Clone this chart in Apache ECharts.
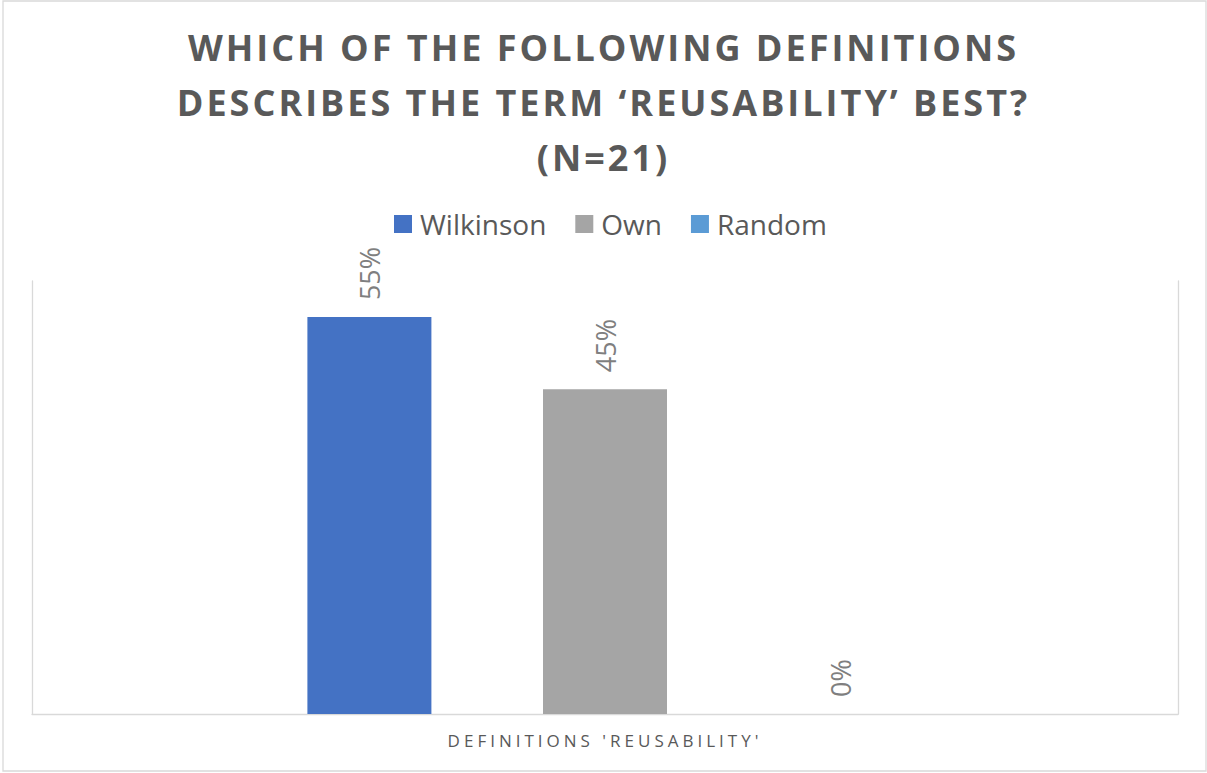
<!DOCTYPE html>
<html>
<head>
<meta charset="utf-8">
<script src="https://cdn.jsdelivr.net/npm/echarts@6/dist/echarts.min.js"></script>
<style>
  html, body { margin: 0; padding: 0; background: #ffffff; }
  #chart { width: 1207px; height: 773px; }
</style>
</head>
<body>
<div id="chart"></div>
<script>
// Survey result: which definition of 'reusability' respondents chose
const titleLines = ['WHICH OF THE FOLLOWING DEFINITIONS', 'DESCRIBES THE TERM \u2018REUSABILITY\u2019 BEST?', '(N=21)'];
const categories = ["DEFINITIONS 'REUSABILITY'"];
const seriesNames = ['Wilkinson', 'Own', 'Random'];
const wilkinson = [0.55];
const own = [0.45];
const random = [0];

const seriesValues = [wilkinson, own, random];
const seriesColors = ['#4472c4', '#a5a5a5', '#5b9bd5'];
const FONT = '"Open Sans", "Noto Sans", sans-serif';

const chart = echarts.init(document.getElementById('chart'), null, { renderer: 'svg' });

const valueAxis = (position) => ({
  type: 'value',
  position: position,
  min: 0,
  max: 0.6,
  axisLine: { show: true, lineStyle: { color: '#d9d9d9', width: 1.3 } },
  axisTick: { show: false },
  axisLabel: { show: false },
  splitLine: { show: false }
});

chart.setOption({
  animation: false,
  backgroundColor: '#ffffff',
  title: {
    text: titleLines.join('\n'),
    left: 'center',
    top: 15,
    textStyle: {
      fontFamily: FONT,
      fontSize: 36,
      fontWeight: 'bold',
      color: '#595959',
      lineHeight: 55
    }
  },
  legend: {
    data: seriesNames,
    left: 394,
    top: 210,
    padding: 0,
    icon: 'rect',
    itemWidth: 18,
    itemHeight: 18,
    itemGap: 29,
    textStyle: { fontFamily: FONT, fontSize: 28, color: '#595959', padding: [0, 0, 0, 3] }
  },
  grid: { left: 32, right: 29, top: 281, bottom: 59, containLabel: false },
  xAxis: {
    type: 'category',
    data: categories,
    axisLine: { show: true, lineStyle: { color: '#d9d9d9', width: 1.3 } },
    axisTick: { show: false },
    axisLabel: { fontFamily: FONT, fontSize: 17, color: '#595959', margin: 18 }
  },
  yAxis: [valueAxis('left'), valueAxis('right')],
  graphic: [{
    type: 'rect',
    silent: true,
    shape: { x: 3, y: 1, width: 1203, height: 770 },
    style: { fill: 'none', stroke: '#d9d9d9', lineWidth: 1.3 }
  }],
  series: seriesNames.map((name, i) => ({
    name: name,
    type: 'bar',
    data: seriesValues[i],
    barWidth: 124,
    barGap: '90%',
    itemStyle: { color: seriesColors[i] },
    emphasis: { disabled: true },
    label: {
      show: true,
      position: 'top',
      distance: 17,
      rotate: 90,
      align: 'left',
      verticalAlign: 'middle',
      fontFamily: FONT,
      fontSize: 27,
      color: '#7f7f7f',
      formatter: (p) => Math.round(p.value * 100) + '%'
    }
  }))
});

// Spread the letters of the title and the category label
function spaceLetters() {
  chart.getDom().querySelectorAll('text').forEach((t) => {
    const s = t.textContent;
    if (titleLines.includes(s)) t.style.letterSpacing = '3px';
    else if (categories.includes(s)) t.style.letterSpacing = '4px';
  });
}
chart.on('finished', spaceLetters);
spaceLetters();
setTimeout(spaceLetters, 0);
</script>
</body>
</html>
